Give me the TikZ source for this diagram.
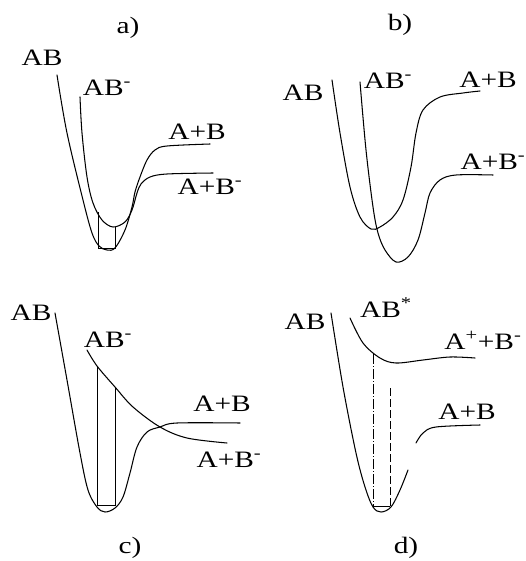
\documentclass[tikz,border=0pt]{standalone}
\usepackage{fontspec}
\setmainfont{Liberation Serif}
\newcommand\lbl[1]{\scalebox{1.25}[1]{#1}}
\newcommand\sm{\textsuperscript{-}}
\begin{document}
\begin{tikzpicture}[x=1pt,y=-1pt,
  curve/.style={line width=1.05pt, line cap=round},
  level/.style={line width=0.7pt},
  lab/.style={inner sep=0pt, font=\fontsize{23.5}{25}\selectfont}]
\useasboundingbox (0,0) rectangle (526,561);
% ---------- panel a ----------
\node[lab] (ta) at (128,28) {\lbl{a)}};
\node[lab] (aAB) at (42,58) {\lbl{AB}};
\node[lab] (aABm) at (107,88) {\lbl{AB\sm}};
\node[lab] (aAB2) at (197,132) {\lbl{A+B}};
\node[lab] (aAB2m) at (210,187) {\lbl{A+B\sm}};
\draw[curve] plot[smooth,tension=0.55] coordinates {(57,75) (67,133) (83,200) (92,233) (99,246) (107,250) (115,248) (125,230) (132,207) (135,192) (140,177) (147,160) (155,150) (167,146) (210,144)};
\draw[curve] plot[smooth,tension=0.55] coordinates {(80,97) (82,133) (87,177) (93,203) (102,220) (113,227) (125,222) (132,210) (137,193) (141,184) (150,177) (167,174) (213,173)};
\draw[level] (98,212) -- (98,248) -- (115,248) -- (115,227);
% ---------- panel b ----------
\node[lab] (tb) at (400,25) {\lbl{b)}};
\node[lab] (bAB) at (303,93) {\lbl{AB}};
\node[lab] (bABm) at (388,81) {\lbl{AB\sm}};
\node[lab] (bAB2) at (488,80) {\lbl{A+B}};
\node[lab] (bAB2m) at (493,162) {\lbl{A+B\sm}};
\draw[curve] plot[smooth,tension=0.55] coordinates {(332,80) (340,133) (350,187) (360,217) (371,229) (380,227) (393,217) (403,200) (411,167) (416,133) (423,110) (440,97) (463,93) (480,91)};
\draw[curve] plot[smooth,tension=0.55] coordinates {(360,82) (366,150) (373,207) (378,233) (385,250) (396,262) (408,257) (418,240) (425,213) (430,193) (440,180) (456,175) (493,175)};
% ---------- panel c ----------
\node[lab] (tc) at (130,548) {\lbl{c)}};
\node[lab] (cAB) at (31,313) {\lbl{AB}};
\node[lab] (cABm) at (108,340) {\lbl{AB\sm}};
\node[lab] (cAB2) at (222,404) {\lbl{A+B}};
\node[lab] (cAB2m) at (229,460) {\lbl{A+B\sm}};
\draw[curve] plot[smooth,tension=0.55] coordinates {(55,313) (67,380) (80,453) (88,490) (97,507) (105,512) (115,508) (123,497) (130,473) (137,447) (147,432) (160,427) (177,423) (240,423)};
\draw[curve] plot[smooth,tension=0.55] coordinates {(87,350) (97,366) (115,387) (133,407) (160,427) (187,438) (227,443)};
\draw[level] (97,366) -- (97,505) -- (115,505) -- (115,387);
% ---------- panel d ----------
\node[lab] (td) at (406,548) {\lbl{d)}};
\node[lab] (dAB) at (305,322) {\lbl{AB}};
\node[lab] (dABs) at (386,308) {\lbl{AB\textsuperscript{*}}};
\node[lab] (dApBm) at (483,340) {\lbl{A\textsuperscript{+}+B\sm}};
\node[lab] (dAB2) at (467,412) {\lbl{A+B}};
\draw[curve] plot[smooth,tension=0.55] coordinates {(331,313) (343,387) (356,453) (365,487) (373,507) (381,512) (391,507) (400,490) (408,470)};
\draw[curve] plot[smooth,tension=0.55] coordinates {(416,443) (423,433) (436,427) (480,425)};
\draw[curve] plot[smooth,tension=0.55] coordinates {(350,318) (363,343) (380,358) (396,363) (423,360) (450,357) (475,358)};
\draw[level, dash pattern=on 10pt off 2pt on 1pt off 2pt] (373,354) -- (373,506);
\draw[level, dash pattern=on 8pt off 3pt] (390,388) -- (390,506);
\draw[level] (373,506) -- (390,506);
\end{tikzpicture}
\end{document}
